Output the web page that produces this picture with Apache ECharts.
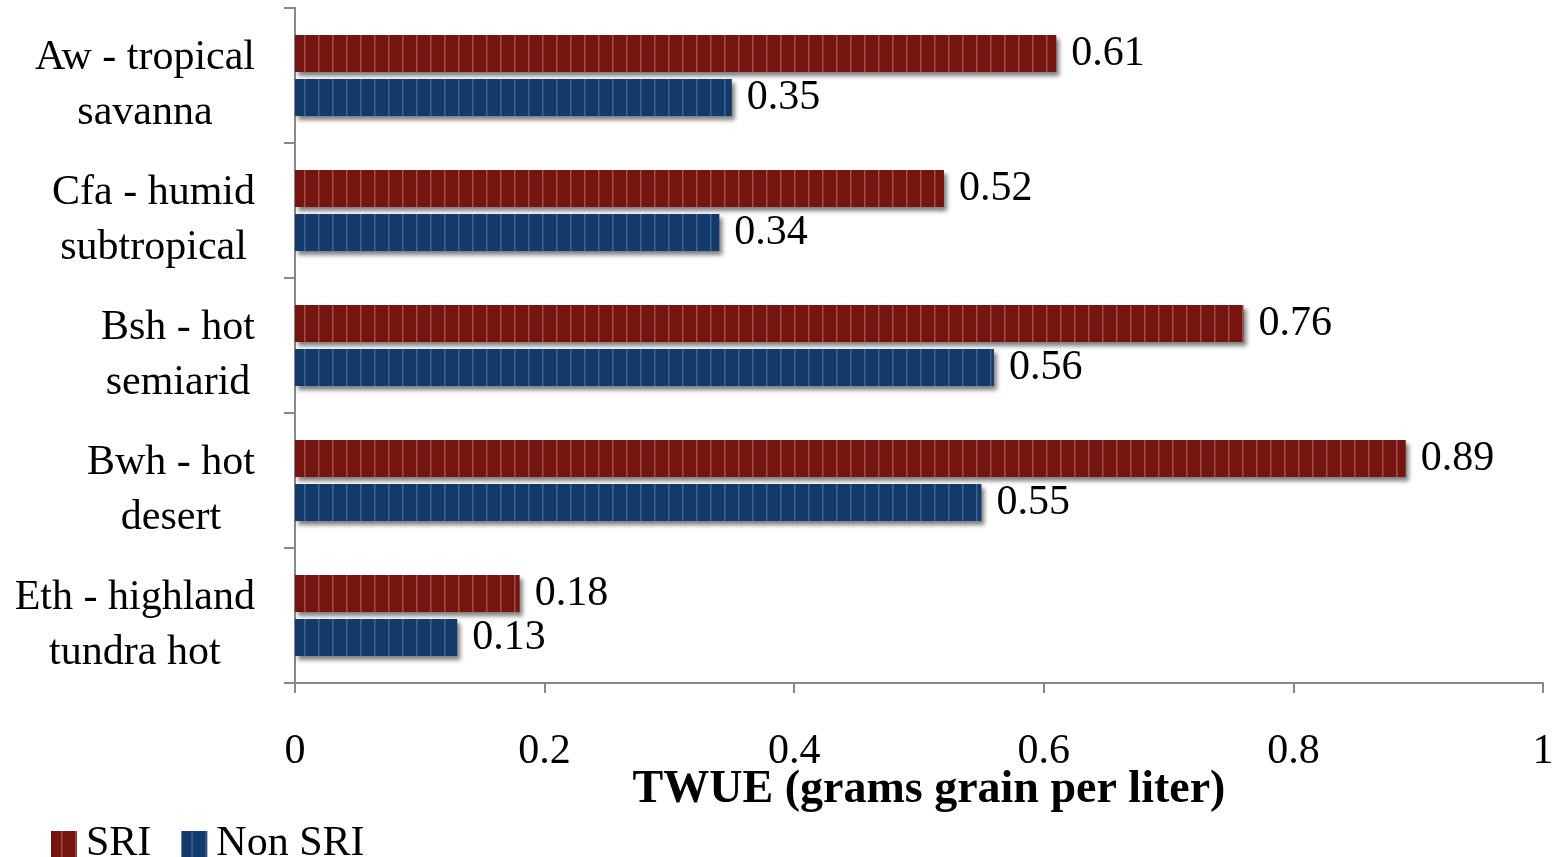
<!DOCTYPE html>
<html>
<head>
<meta charset="utf-8">
<script src="https://cdn.jsdelivr.net/npm/echarts@6/dist/echarts.min.js"></script>
<style>html,body{margin:0;padding:0;background:#fff}#c{width:1561px;height:857px}</style>
</head>
<body>
<div id="c"></div>
<script>
const categories = [
  ['Aw - tropical', 'savanna'],
  ['Cfa - humid', 'subtropical'],
  ['Bsh - hot', 'semiarid'],
  ['Bwh - hot', 'desert'],
  ['Eth - highland', 'tundra hot']
];
const sriValues = [0.61, 0.52, 0.76, 0.89, 0.18];
const nonSriValues = [0.35, 0.34, 0.56, 0.55, 0.13];
const xTicks = [0, 0.2, 0.4, 0.6, 0.8, 1];

function stripe(base, light) {
  const c = document.createElement('canvas');
  c.width = 14; c.height = 4;
  const g = c.getContext('2d');
  g.fillStyle = base; g.fillRect(0, 0, 14, 4);
  g.fillStyle = light; g.fillRect(10, 0, 1.5, 4);
  return { image: c, repeat: 'repeat' };
}
const redPat = stripe('#761510', '#9e4e4a');
const bluePat = stripe('#133a6a', '#3f6392');

const font = '"Liberation Serif", "DejaVu Serif", serif';
const chart = echarts.init(document.getElementById('c'));
const labels = categories.map(l => l.map(s => '{a|' + s + '}').join('\n'));
const shadow = { shadowColor: 'rgba(0,0,0,0.5)', shadowBlur: 4, shadowOffsetX: 3, shadowOffsetY: 4 };
const valLabel = { show: true, position: 'right', distance: 15, fontFamily: font, fontSize: 42, color: '#000' };
chart.setOption({
  animation: false,
  grid: { left: 295, right: 18, top: 8, bottom: 174, containLabel: false },
  legend: {
    left: 46, top: 818, itemWidth: 26, itemHeight: 26, itemGap: 30,
    icon: 'rect',
    textStyle: { fontFamily: font, fontSize: 42, color: '#000', padding: [0, 0, 0, 4] },
    data: ['SRI', 'Non SRI']
  },
  xAxis: {
    type: 'value', min: 0, max: 1, interval: 0.2,
    axisLine: { show: true, lineStyle: { color: '#888', width: 2 } },
    axisTick: { show: true, length: 10, lineStyle: { color: '#888', width: 2 } },
    splitLine: { show: false },
    axisLabel: { margin: 48, fontFamily: font, fontSize: 42, color: '#000',
      formatter: v => xTicks.find(t => Math.abs(t - v) < 1e-9) !== undefined ? String(+v.toFixed(1)) : '' },
    name: 'TWUE (grams grain per liter)', nameLocation: 'middle', nameGap: 84, nameMoveOverlap: false,
    nameTextStyle: { fontFamily: font, fontSize: 46, fontWeight: 'bold', color: '#000', padding: [0, 0, 0, 20] }
  },
  yAxis: {
    type: 'category', inverse: true,
    data: labels,
    axisLine: { show: true, lineStyle: { color: '#888', width: 2 } },
    axisTick: { show: true, length: 11, lineStyle: { color: '#888', width: 2 } },
    axisLabel: { margin: 40, fontFamily: font, fontSize: 42, color: '#000', padding: [20, 0, 0, 0],
      rich: { a: { fontFamily: font, fontSize: 42, color: '#000', align: 'center', lineHeight: 55 } } }
  },
  series: [
    { name: 'SRI', type: 'bar', data: sriValues, barWidth: 37, barGap: '19%',
      itemStyle: Object.assign({ color: redPat }, shadow), label: valLabel },
    { name: 'Non SRI', type: 'bar', data: nonSriValues, barWidth: 37, barGap: '19%',
      itemStyle: Object.assign({ color: bluePat }, shadow), label: valLabel }
  ]
});
</script>
</body>
</html>
